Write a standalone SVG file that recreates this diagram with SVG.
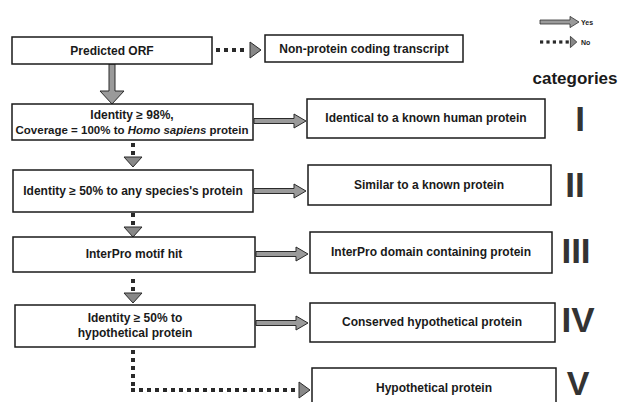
<svg xmlns="http://www.w3.org/2000/svg" width="621" height="402" viewBox="0 0 621 402">
<style>
.box{fill:#fff;stroke:#1a1a1a;stroke-width:1.5}
.t{font-family:"Liberation Sans",Arial,sans-serif;font-weight:bold;font-size:12px;fill:#1a1a1a;text-anchor:middle}
.num{font-family:"Liberation Sans",Arial,sans-serif;font-weight:bold;font-size:35px;fill:#333;text-anchor:middle}
.yes{fill:#9a9a9a;stroke:#2a2a2a;stroke-width:1}
.dot{fill:#2a2a2a}
.head{fill:#888;stroke:#2a2a2a;stroke-width:1}
.small{font-family:"Liberation Sans",Arial,sans-serif;font-weight:bold;font-size:7px;fill:#222}
</style>
<defs>
<path id="yesArrow" class="yes" d="M0,-2.5 H40 V-7 L52,0 L40,7 V2.5 H0 Z"/>
<g id="dotH">
<rect class="dot" x="0" y="-2" width="4" height="4"/>
<rect class="dot" x="8" y="-2" width="4" height="4"/>
<rect class="dot" x="16" y="-2" width="4" height="4"/>
<rect class="dot" x="24" y="-2" width="4" height="4"/>
</g>
<g id="dotDown">
<rect class="dot" x="-2" y="0" width="4" height="4"/>
<rect class="dot" x="-2" y="8" width="4" height="4"/>
<polygon class="head" points="-9,14 9,14 0,24"/>
</g>
</defs>

<g id="legend">
<use href="#yesArrow" transform="translate(540,22) scale(0.75,0.8)"/>
<text class="small" x="581" y="25">Yes</text>
<g transform="translate(540,42) scale(0.8)">
<use href="#dotH"/>
<rect class="dot" x="32" y="-2" width="4" height="4"/>
<polygon class="head" points="38,-7 38,7 46,0"/>
</g>
<text class="small" x="581" y="45">No</text>
<text x="575" y="84" style="font-family:'Liberation Sans',Arial,sans-serif;font-weight:bold;font-size:17px;fill:#1a1a1a;text-anchor:middle">categories</text>
</g>

<g id="connectors">
<g transform="translate(216,50)">
<use href="#dotH"/>
<polygon class="head" points="34,-8 34,8 45,0"/>
</g>
<path class="yes" d="M109,64 V91 H100 L112,104 L124,91 H115 V64 Z"/>
<use href="#yesArrow" transform="translate(254,121)"/>
<use href="#yesArrow" transform="translate(254,191)"/>
<use href="#yesArrow" transform="translate(256,254)"/>
<use href="#yesArrow" transform="translate(256,323)"/>
<use href="#dotDown" transform="translate(133,143)"/>
<use href="#dotDown" transform="translate(133,213)"/>
<use href="#dotDown" transform="translate(133,279)"/>
<g transform="translate(133,350)">
<rect class="dot" x="-2" y="0" width="4" height="4"/>
<rect class="dot" x="-2" y="8" width="4" height="4"/>
<rect class="dot" x="-2" y="16" width="4" height="4"/>
<rect class="dot" x="-2" y="24" width="4" height="4"/>
<rect class="dot" x="-2" y="32" width="4" height="4"/>
</g>
<g transform="translate(131,390)">
<use href="#dotH"/>
<use href="#dotH" x="32"/>
<use href="#dotH" x="64"/>
<use href="#dotH" x="96"/>
<use href="#dotH" x="128"/>
<rect class="dot" x="160" y="-2" width="4" height="4"/>
<polygon class="head" points="168,-8 168,8 179,0"/>
</g>
</g>

<g id="orf">
<rect class="box" x="12" y="37" width="200" height="27"/>
<text class="t" x="112" y="55">Predicted ORF</text>
</g>
<g id="noncoding">
<rect class="box" x="265" y="35" width="198" height="27"/>
<text class="t" x="364" y="53">Non-protein coding transcript</text>
</g>
<g id="q1">
<rect class="box" x="12" y="104" width="241" height="36"/>
<text class="t" x="132" y="119">Identity ≥ 98%,</text>
<text class="t" x="132" y="134" style="font-size:11.5px">Coverage = 100% to <tspan font-style="italic">Homo sapiens</tspan> protein</text>
</g>
<g id="c1">
<rect class="box" x="307" y="99" width="238" height="39"/>
<text class="t" x="426" y="122">Identical to a known human protein</text>
<text class="num" x="580" y="131">I</text>
</g>
<g id="q2">
<rect class="box" x="13" y="170" width="240" height="42"/>
<text class="t" x="133" y="195">Identity ≥ 50% to any species's protein</text>
</g>
<g id="c2">
<rect class="box" x="308" y="165" width="243" height="40"/>
<text class="t" x="429" y="189">Similar to a known protein</text>
<text class="num" x="575" y="197">II</text>
</g>
<g id="q3">
<rect class="box" x="13" y="237" width="242" height="35"/>
<text class="t" x="134" y="258">InterPro motif hit</text>
</g>
<g id="c3">
<rect class="box" x="310" y="232" width="242" height="41"/>
<text class="t" x="431" y="256">InterPro domain containing protein</text>
<text class="num" x="576" y="263">III</text>
</g>
<g id="q4">
<rect class="box" x="15" y="305" width="240" height="42"/>
<text class="t" x="135" y="322">Identity ≥ 50% to</text>
<text class="t" x="135" y="337">hypothetical protein</text>
</g>
<g id="c4">
<rect class="box" x="310" y="303" width="245" height="39"/>
<text class="t" x="432" y="326">Conserved hypothetical protein</text>
<text class="num" x="578" y="332">IV</text>
</g>
<g id="c5">
<rect class="box" x="312" y="368" width="244" height="40"/>
<text class="t" x="434" y="392">Hypothetical protein</text>
<text class="num" x="578" y="395" style="font-size:34px">V</text>
</g>
</svg>
